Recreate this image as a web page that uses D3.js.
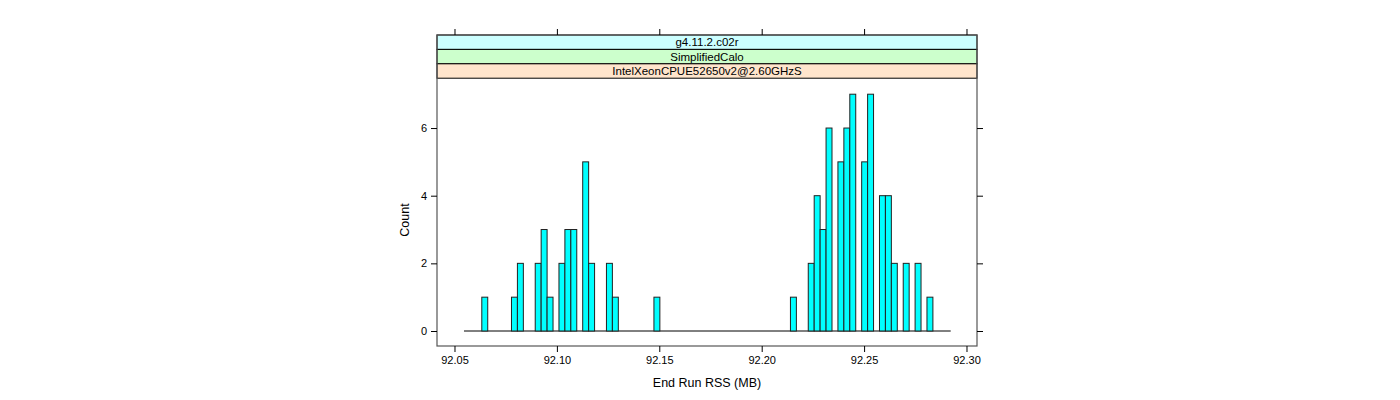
<!DOCTYPE html>
<html><head><meta charset="utf-8">
<script src="https://cdn.jsdelivr.net/npm/d3@7"></script>
<style>body{margin:0;background:#fff}</style>
</head><body>
<svg id="chart" width="1400" height="400"></svg>
<script>
// Histogram bins (index into equal-width breaks) and counts
const binStart = 92.05464;
const binWidth = 0.0028982;
const nBins = 82;
const binIndex = [3, 8, 9, 12, 13, 14, 16, 17, 18, 20, 21, 24, 25, 32,
                  55, 58, 59, 60, 61, 63, 64, 65, 67, 68, 70, 71, 72, 74, 76, 78];
const counts   = [1, 1, 2, 2, 3, 1, 2, 3, 3, 5, 2, 2, 1, 1,
                  1, 2, 4, 3, 6, 5, 6, 7, 5, 7, 4, 4, 2, 2, 2, 1];
const xTicks = [92.05, 92.10, 92.15, 92.20, 92.25, 92.30];
const yTicks = [0, 2, 4, 6];
const strips = ["g4.11.2.c02r", "SimplifiedCalo", "IntelXeonCPUE52650v2@2.60GHzS"];
const stripColors = ["#ccffff", "#ccffcc", "#ffe5cc"];
const xLabel = "End Run RSS (MB)";
const yLabel = "Count";

const svg = d3.select("#chart");
const L = 437, R = 977, T = 78, B = 346;
const stripTop = 35, stripH = 14.4;
const font = "Liberation Sans, Arial, Helvetica, sans-serif";

const x = d3.scaleLinear().domain([92.04146, 92.30513]).range([L, R]);
const y = d3.scaleLinear().domain([-0.4434, 7.479]).range([B, T]);

const data = binIndex.map((k, i) => ({x0: binStart + k * binWidth, x1: binStart + (k + 1) * binWidth, n: counts[i]}));

// strips (outer at top)
strips.forEach((s, i) => {
  const yy = stripTop + i * stripH;
  svg.append("rect").attr("x", L).attr("y", yy).attr("width", R - L).attr("height", stripH)
    .attr("fill", stripColors[i]).attr("stroke", "#000").attr("stroke-width", 1);
  svg.append("text").attr("x", (L + R) / 2).attr("y", yy + stripH / 2 + 4)
    .attr("text-anchor", "middle").attr("font-family", font).attr("font-size", 11.5)
    .text(s);
});

// baseline
svg.append("line").attr("x1", x(binStart)).attr("x2", x(binStart + nBins * binWidth))
  .attr("y1", y(0)).attr("y2", y(0)).attr("stroke", "#000").attr("stroke-width", 1);

// bars
svg.selectAll("rect.bar").data(data).enter().append("rect").attr("class", "bar")
  .attr("x", d => x(d.x0)).attr("width", d => x(d.x1) - x(d.x0))
  .attr("y", d => y(d.n)).attr("height", d => y(0) - y(d.n))
  .attr("fill", "#00ffff").attr("stroke", "#222").attr("stroke-width", 1);

// panel border
svg.append("rect").attr("x", L).attr("y", stripTop).attr("width", R - L).attr("height", B - stripTop)
  .attr("fill", "none").attr("stroke", "#555").attr("stroke-width", 1.2);

// axes
const axStyle = g => {
  g.select(".domain").remove();
  g.selectAll(".tick line").attr("stroke", "#000");
  g.selectAll(".tick text").attr("font-family", font).attr("font-size", 11).attr("fill", "#000");
};
svg.append("g").attr("transform", `translate(0,${B})`)
  .call(d3.axisBottom(x).tickValues(xTicks).tickFormat(d3.format(".2f")).tickSize(6).tickPadding(4))
  .call(axStyle);
svg.append("g").attr("transform", `translate(0,${stripTop})`)
  .call(d3.axisTop(x).tickValues(xTicks).tickFormat("").tickSize(6))
  .call(axStyle);
svg.append("g").attr("transform", `translate(${L},0)`)
  .call(d3.axisLeft(y).tickValues(yTicks).tickSize(6).tickPadding(4))
  .call(axStyle);
svg.append("g").attr("transform", `translate(${R},0)`)
  .call(d3.axisRight(y).tickValues(yTicks).tickFormat("").tickSize(6))
  .call(axStyle);

// labels
svg.append("text").attr("x", (L + R) / 2).attr("y", 387).attr("text-anchor", "middle")
  .attr("font-family", font).attr("font-size", 12.5).text(xLabel);
svg.append("text").attr("transform", `translate(409,${(T + B) / 2 + 8}) rotate(-90)`)
  .attr("text-anchor", "middle").attr("font-family", font).attr("font-size", 12.5).text(yLabel);
</script>
</body></html>
